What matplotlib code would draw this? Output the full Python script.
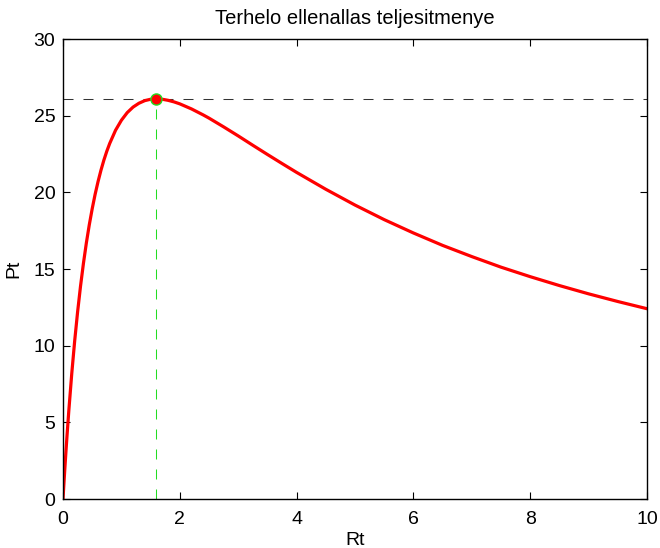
import matplotlib
matplotlib.use("Agg")
import matplotlib.pyplot as plt

# Values
rt = [0, 0.01, 0.02, 0.03, 0.05, 0.07, 0.1, 0.15, 0.2, 0.25, 0.3, 0.35, 0.4, 0.45,
      0.5, 0.55, 0.6, 0.65, 0.7, 0.75, 0.8, 0.9, 1.0, 1.1, 1.2, 1.3, 1.4, 1.5, 1.6,
      1.7, 1.8, 1.9, 2.0, 2.2, 2.4, 2.5, 2.75, 3.0, 3.25, 3.5, 3.75, 4.0, 4.5, 5.0,
      5.5, 6.0, 6.5, 7.0, 7.5, 8.0, 8.5, 9.0, 9.5, 10.0]
pt = [0, 0.64, 1.27, 1.89, 3.07, 4.19, 5.78, 8.18, 10.31, 12.20, 13.88, 15.37,
      16.70, 17.88, 18.93, 19.87, 20.70, 21.44, 22.10, 22.68, 23.19, 24.05, 24.70,
      25.20, 25.56, 25.81, 25.98, 26.07, 26.09, 26.07, 26.00, 25.90, 25.77, 25.44,
      25.05, 24.84, 24.27, 23.68, 23.07, 22.47, 21.88, 21.30, 20.20, 19.17, 18.22,
      17.35, 16.54, 15.81, 15.12, 14.50, 13.92, 13.38, 12.88, 12.41]
rt_max = 1.6
pt_max = 26.09
xticks = [0, 2, 4, 6, 8, 10]
yticks = [0, 5, 10, 15, 20, 25, 30]

plt.rcParams['font.family'] = ['Liberation Sans', 'DejaVu Sans']

fig = plt.figure(figsize=(6.6, 5.48), dpi=100)
ax = fig.add_axes([63/660, 1 - 499/548, 584/660, 460/548])

ax.plot([0, 10], [pt_max, pt_max], color='#333333', lw=0.75, dashes=(9.6, 9.6))
ax.plot([rt_max, rt_max], [0, pt_max], color='#22dd22', lw=0.75, dashes=(9.6, 9.6))
ax.plot(rt, pt, color='red', lw=2.3, solid_capstyle='round', solid_joinstyle='round')
ax.plot([rt_max], [pt_max], 'o', ms=8, mfc='red', mec='#22dd22', mew=1.0)

ax.set_xlim(0, 10)
ax.set_ylim(0, 30)
ax.set_xticks(xticks)
ax.set_yticks(yticks)
ax.tick_params(direction='in', length=5, width=0.8, labelsize=14, top=True, right=True)
ax.tick_params(axis='x', pad=8.5)
ax.tick_params(axis='y', pad=5.5)
for s in ax.spines.values():
    s.set_linewidth(1.0)
ax.set_xlabel('Rt', fontsize=14, labelpad=3)
ax.set_ylabel('Pt', fontsize=14, labelpad=8)
ax.set_title('Terhelo ellenallas teljesitmenye', fontsize=14.5, pad=10.5)

fig.savefig('out.png', dpi=100)
